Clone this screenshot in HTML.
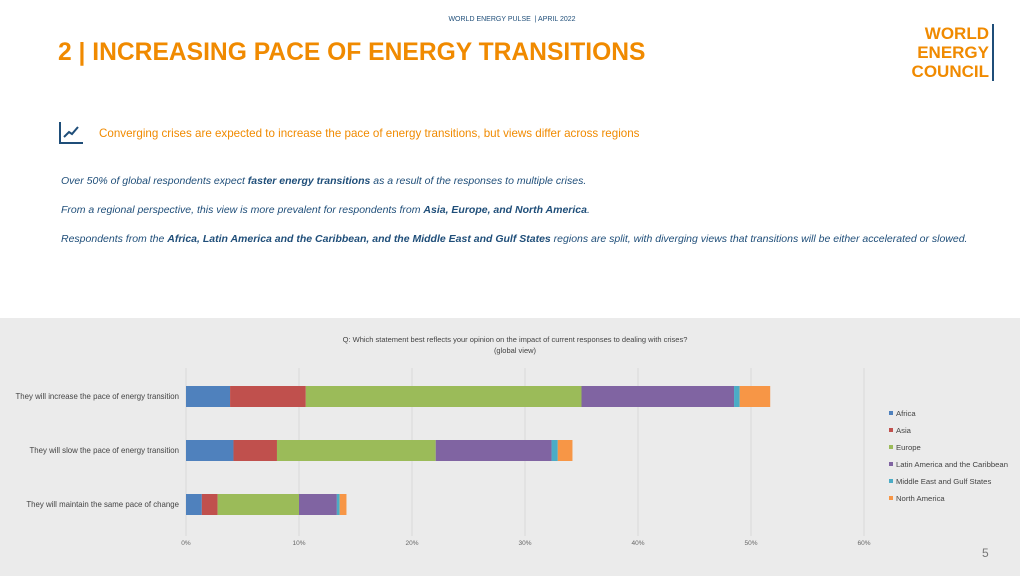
<!DOCTYPE html>
<html><head><meta charset="utf-8"><style>
body{margin:0;width:1024px;height:576px;background:#fff;font-family:"Liberation Sans",sans-serif;position:relative;overflow:hidden}
.abs{position:absolute}
.it{font-style:italic;color:#1f4e79;font-size:10.5px;left:61px}
</style></head><body>
<div class="abs" style="left:0;width:1024px;top:16px;text-align:center;font-size:7px;color:#1f4e79">WORLD ENERGY PULSE &nbsp;| APRIL 2022</div>
<div class="abs" style="left:58px;top:38px;font-size:25px;font-weight:bold;color:#f08a00;transform:scaleX(0.985);transform-origin:left">2 | INCREASING PACE OF ENERGY TRANSITIONS</div>
<div class="abs" style="right:30px;top:24px;text-align:right;font-weight:bold;color:#f08a00;font-size:17px;line-height:19px;border-right:2px solid #1f4e79;padding-right:3px">WORLD<br>ENERGY<br>COUNCIL</div>
<svg class="abs" style="left:59px;top:121px" width="26" height="24"><path d="M1 1V22H24" stroke="#1f4e79" stroke-width="2" fill="none"/><path d="M5 16L10 11L13 13L19 6" stroke="#1f4e79" stroke-width="2" fill="none"/></svg>
<div class="abs" style="left:99px;top:127px;font-size:11.6px;color:#f08a00">Converging crises are expected to increase the pace of energy transitions, but views differ across regions</div>
<div class="abs it" style="top:175px">Over 50% of global respondents expect <b>faster energy transitions</b> as a result of the responses to multiple crises.</div>
<div class="abs it" style="top:204px">From a regional perspective, this view is more prevalent for respondents from <b>Asia, Europe, and North America</b>.</div>
<div class="abs it" style="top:233px">Respondents from the <b>Africa, Latin America and the Caribbean, and the Middle East and Gulf States</b> regions are split, with diverging views that transitions will be either accelerated or slowed.</div>
<div class="abs" style="left:0;top:318px;width:1020px;height:258px;background:#ebebeb"></div>
<svg class="abs" id="chart" style="left:0;top:318px" width="1020" height="258"></svg>
<div class="abs" style="left:982px;top:546px;font-size:12px;color:#777">5</div>
<script>
const categories=["They will increase the pace of energy transition","They will slow the pace of energy transition","They will maintain the same pace of change"];
const seriesNames=["Africa","Asia","Europe","Latin America and the Caribbean","Middle East and Gulf States","North America"];
const africa=[3.9,4.2,1.4];
const asia=[6.7,3.85,1.4];
const europe=[24.4,14.05,7.2];
const latam=[13.5,10.25,3.35];
const mideast=[0.5,0.55,0.25];
const northAmerica=[2.7,1.3,0.6];
const ticks=[0,10,20,30,40,50,60];
const colors=["#4f81bd","#c0504d","#9bbb59","#8064a2","#4bacc6","#f79646"];
const series=[africa,asia,europe,latam,mideast,northAmerica];
const svg=document.getElementById('chart');const NS="http://www.w3.org/2000/svg";
const x=v=>186+v*11.3;const yc=i=>78.5+i*54;
function mk(t,a,p){const e=document.createElementNS(NS,t);for(const k in a)e.setAttribute(k,a[k]);(p||svg).appendChild(e);return e;}
let t=mk('text',{x:515,y:24,'text-anchor':'middle','font-size':7.5,fill:'#444'});t.textContent="Q: Which statement best reflects your opinion on the impact of current responses to dealing with crises?";


t=mk('text',{x:515,y:35,'text-anchor':'middle','font-size':7.5,fill:'#444'});t.textContent="(global view)";


ticks.forEach(v=>{const g=mk('line',{x1:x(v),x2:x(v),y1:50,y2:218,stroke:'#d9d9d9'});


const l=mk('text',{x:x(v),y:227,'text-anchor':'middle','font-size':6.5,fill:'#666'});l.textContent=v+'%';

});
categories.forEach((c,i)=>{const l=mk('text',{x:179,y:yc(i)+2.5,'text-anchor':'end','font-size':7.85,fill:'#444'});l.textContent=c;


let acc=0;series.forEach((s,j)=>{const r=mk('rect',{x:x(acc),y:yc(i)-10.5,width:x(acc+s[i])-x(acc),height:21,fill:colors[j]});


acc+=s[i];});});
seriesNames.forEach((n,j)=>{const r=mk('rect',{x:889,y:93+j*17,width:4,height:4,fill:colors[j]});


const l=mk('text',{x:896,y:98+j*17,'font-size':7.7,fill:'#444'});l.textContent=n;

});
</script>
</body></html>
